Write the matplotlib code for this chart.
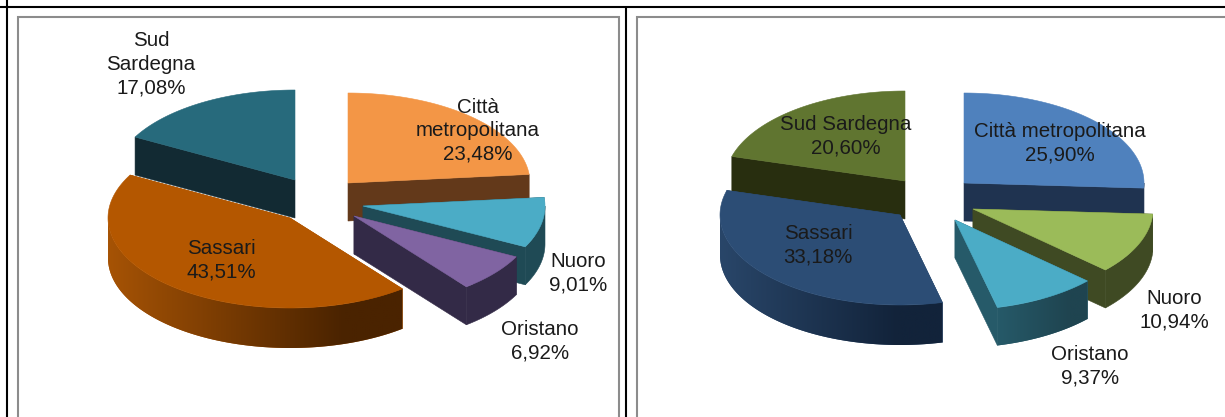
import numpy as np
import matplotlib
matplotlib.use("Agg")
import matplotlib.pyplot as plt
from matplotlib.colors import to_rgb
from matplotlib.patches import Polygon

plt.rcParams['font.family'] = ['Liberation Sans', 'DejaVu Sans']

# ---- data ----
left_names = ["Città\nmetropolitana", "Nuoro", "Oristano", "Sassari", "Sud\nSardegna"]
left_values = [23.48, 9.01, 6.92, 43.51, 17.08]
right_names = ["Città metropolitana", "Nuoro", "Oristano", "Sassari", "Sud Sardegna"]
right_values = [25.90, 10.94, 9.37, 33.18, 20.60]

# ---- layout and style ----
W, H = 1225, 417
RY = 90

left_rx = 182
left_apex = [(348, 183), (363, 206), (354, 216), (290, 218), (295, 180)]
left_depth = [38, 38, 38, 40, 38]
left_label_pos = [(478, 131), (578, 273), (540, 341), (221, 260), (151, 64)]
left_top = ["#F39646", "#4BACC6", "#8064A2", "#B45700", "#276A7C"]
left_wall = ["#63391A", "#1F4A55", "#332A47", "#A65305", "#122A33"]
left_arc_end = ["#63391A", "#1F4A55", "#332A47", "#4A2300", "#122A33"]
left_draw_order = [0, 4, 1, 2, 3]

right_rx = 180
right_apex = [(964, 183), (973, 209), (955, 220), (900, 215), (905, 181)]
right_depth = [38, 38, 38, 40, 38]
right_label_pos = [(1060, 143), (1174, 310), (1090, 366), (818, 245), (846, 136)]
right_top = ["#4F81BD", "#9BBB59", "#4BACC6", "#2C4D75", "#607530"]
right_wall = ["#1F3350", "#3F4A23", "#265A69", "#294669", "#282E0F"]
right_arc_end = ["#1F3350", "#3F4A23", "#1F4450", "#12233A", "#282E0F"]
right_draw_order = [0, 4, 1, 2, 3]

z = [2]


def next_z():
    z[0] += 1
    return z[0]


def rim_points(apex, rx, a0, a1):
    n = max(int(np.degrees(a1 - a0)) * 2, 16)
    angs = np.linspace(a0, a1, n + 1)
    return np.column_stack([apex[0] + rx * np.sin(angs), apex[1] - RY * np.cos(angs)])


def draw_slice(ax, apex, rx, depth, a0, a1, top, wall, arc_end):
    rim = rim_points(apex, rx, a0, a1)

    # straight cut walls (a cut pointing straight back has no visible face)
    for p in (rim[0], rim[-1]):
        if abs(p[0] - apex[0]) < 1:
            continue
        ax.add_patch(Polygon([apex, p, p + (0, depth), (apex[0], apex[1] + depth)],
                             closed=True, fc=wall, ec=wall, lw=0.4, zorder=next_z()))
    # outer wall: only the part of the rim facing the viewer
    f0, f1 = max(a0, np.pi / 2), min(a1, 3 * np.pi / 2)
    if f1 > f0:
        front = rim_points(apex, rx, f0, f1)
        lower = (front + (0, depth))[::-1]
        face = Polygon(np.vstack([front, lower]), closed=True,
                       fc=wall, ec=arc_end if wall == arc_end else "none",
                       lw=0.4, zorder=next_z())
        ax.add_patch(face)
        if wall != arc_end:
            x0, x1 = front[:, 0].min(), front[:, 0].max()
            t = np.clip(np.linspace(0, 1, 256) / 0.8, 0, 1)[:, None]
            grad = (1 - t) * np.array(to_rgb(wall)) + t * np.array(to_rgb(arc_end))
            im = ax.imshow(grad[None, :, :],
                           extent=(x0, x1, front[:, 1].max() + depth + 1, front[:, 1].min() - 1),
                           aspect="auto", interpolation="bilinear", zorder=next_z())
            im.set_clip_path(face)
    # top face
    ax.add_patch(Polygon(np.vstack([[apex], rim]), closed=True,
                         fc=top, ec=top, lw=0.4, zorder=next_z()))


def draw_pie(ax, names, values, apexes, rx, depths, label_pos, tops, walls, arc_ends, order):
    fracs = np.array(values) / np.sum(values)
    edges = np.concatenate([[0], np.cumsum(fracs)]) * 2 * np.pi
    for i in order:
        draw_slice(ax, apexes[i], rx, depths[i], edges[i], edges[i + 1],
                   tops[i], walls[i], arc_ends[i])
    for name, v, (x, y) in zip(names, values, label_pos):
        txt = f"{name}\n{v:.2f}%".replace(".", ",")
        ax.text(x, y, txt, ha="center", va="center", fontsize=14.8,
                color="#1a1a1a", linespacing=1.3, zorder=500)


fig = plt.figure(figsize=(W / 100, H / 100), dpi=100)
ax = fig.add_axes([0, 0, 1, 1])
ax.axis("off")

# table rules
ax.plot([0, W], [6.5, 6.5], color="black", lw=1.5, solid_capstyle="butt")
ax.plot([6.5, 6.5], [0, H], color="black", lw=1.5, solid_capstyle="butt")
ax.plot([626, 626], [6.5, H], color="black", lw=1.5, solid_capstyle="butt")
# chart frames
ax.plot([17.5, 17.5, 619, 619], [H, 16.5, 16.5, H], color="#8C8C8C", lw=1.5, solid_joinstyle="miter")
ax.plot([636.5, 636.5, W], [H, 16.5, 16.5], color="#8C8C8C", lw=1.5, solid_joinstyle="miter")

draw_pie(ax, left_names, left_values, left_apex, left_rx, left_depth, left_label_pos,
         left_top, left_wall, left_arc_end, left_draw_order)
draw_pie(ax, right_names, right_values, right_apex, right_rx, right_depth, right_label_pos,
         right_top, right_wall, right_arc_end, right_draw_order)

ax.set_xlim(0, W)
ax.set_ylim(H, 0)

fig.savefig("out.png", dpi=100)
